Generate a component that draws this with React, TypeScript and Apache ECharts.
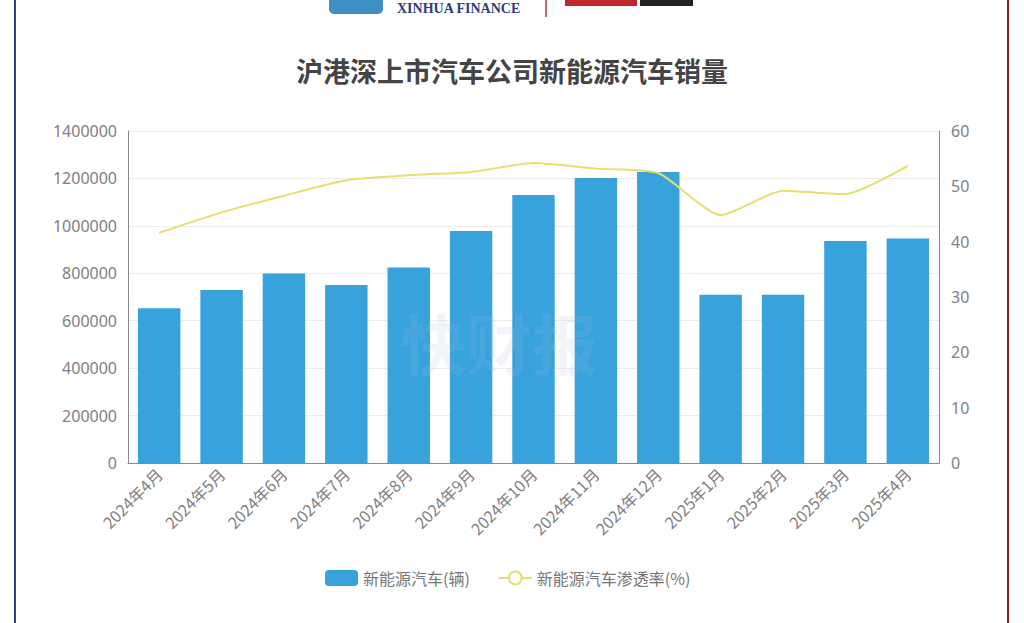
import React, { useEffect, useRef } from "react";
import * as echarts from "echarts";

const categories = [
  "2024年4月", "2024年5月", "2024年6月", "2024年7月", "2024年8月", "2024年9月",
  "2024年10月", "2024年11月", "2024年12月", "2025年1月", "2025年2月", "2025年3月", "2025年4月",
];
const salesValues = [653000, 729000, 799000, 751000, 824000, 978000, 1130000, 1202000, 1227000, 710000, 710000, 936000, 947000];
const penetrationValues = [41.6, 45.3, 48.3, 51.1, 52.0, 52.6, 54.2, 53.2, 52.4, 44.8, 49.2, 48.6, 53.7];
const salesName = "新能源汽车(辆)";
const rateName = "新能源汽车渗透率(%)";
const titleText = "沪港深上市汽车公司新能源汽车销量";

export default function App() {
  const ref = useRef<HTMLDivElement>(null);
  useEffect(() => {
    document.body.style.margin = "0";
    if (!ref.current) return;
    const chart = echarts.init(ref.current, null, { renderer: "svg" });
    const axisLabel = { color: "#808080", fontSize: 16, fontFamily: "Noto Sans" };
    chart.setOption({
      animation: false,
      backgroundColor: "#ffffff",
      title: {
        text: titleText,
        left: "center",
        top: 52,
        textStyle: { fontSize: 27, fontWeight: "bold", color: "#444", fontFamily: "Noto Sans CJK SC" },
      },
      grid: { left: 128, right: 85, top: 131, bottom: 160 },
      legend: {
        bottom: 32,
        left: 320,
        itemWidth: 33,
        itemHeight: 16,
        itemGap: 28,
        textStyle: { color: "#777", fontSize: 16, fontFamily: "Noto Sans CJK SC" },
        data: [
          { name: salesName, itemStyle: { borderRadius: 3 } },
          { name: rateName },
        ],
      },
      xAxis: {
        type: "category",
        data: categories,
        axisLine: { lineStyle: { color: "#888" } },
        axisTick: { lineStyle: { color: "#888" } },
        axisLabel: { ...axisLabel, rotate: 45, interval: 0, fontSize: 16, fontFamily: "Noto Sans CJK SC", margin: 8 },
      },
      yAxis: [
        {
          type: "value",
          min: 0,
          max: 1400000,
          interval: 200000,
          axisLine: { show: true, lineStyle: { color: "#888" } },
          axisTick: { show: false },
          splitLine: { lineStyle: { color: "#ececec" } },
          axisLabel: { ...axisLabel, margin: 11, formatter: (v: number) => String(v) },
        },
        {
          type: "value",
          min: 0,
          max: 60,
          interval: 10,
          axisLine: { show: true, lineStyle: { color: "#888" } },
          axisTick: { show: false },
          splitLine: { show: false },
          axisLabel: { ...axisLabel, margin: 12 },
        },
      ],
      series: [
        {
          name: salesName,
          type: "bar",
          data: salesValues,
          barWidth: "68%",
          itemStyle: { color: "#37a2dc" },
        },
        {
          name: rateName,
          type: "line",
          yAxisIndex: 1,
          data: penetrationValues,
          smooth: 0.2,
          symbol: "emptyCircle",
          symbolSize: 15,
          showSymbol: false,
          lineStyle: { color: "#e6df6e", width: 2 },
          itemStyle: { color: "#e6df6e" },
        },
      ],
      graphic: [
        { type: "line", shape: { x1: 15, y1: 0, x2: 15, y2: 623 }, style: { stroke: "#2e3f8c", lineWidth: 2 } },
        { type: "line", shape: { x1: 1008, y1: 0, x2: 1008, y2: 623 }, style: { stroke: "#8c1f24", lineWidth: 2 } },
        { type: "rect", shape: { x: 329, y: -6, width: 54, height: 20, r: 5 }, style: { fill: "#3f8fc4" } },
        {
          type: "text",
          left: 397,
          top: 1,
          style: { text: "XINHUA FINANCE", fill: "#2c3d7e", font: "bold 14px 'Liberation Serif'" },
        },
        { type: "line", shape: { x1: 546, y1: 0, x2: 546, y2: 17 }, style: { stroke: "#b03a3a", lineWidth: 1.5 } },
        { type: "rect", shape: { x: 565, y: -4, width: 72, height: 10 }, style: { fill: "#c0282d" } },
        { type: "rect", shape: { x: 640, y: -4, width: 53, height: 10 }, style: { fill: "#222" } },
        {
          type: "text",
          left: 400,
          top: 308,
          z: 100,
          style: { text: "快财报", fill: "rgba(170,185,230,0.16)", font: "bold 66px 'Noto Sans CJK SC'" },
        },
      ],
    });
    return () => chart.dispose();
  }, []);
  return <div ref={ref} style={{ width: 1024, height: 623 }} />;
}
